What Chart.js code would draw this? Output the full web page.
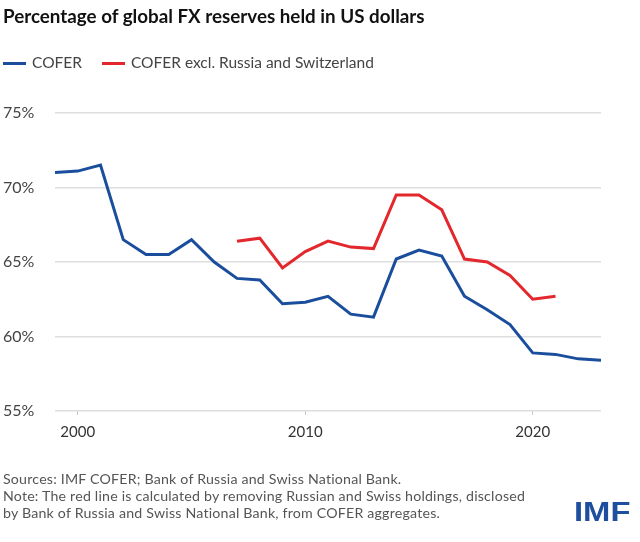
<!DOCTYPE html>
<html>
<head>
<meta charset="utf-8">
<script src="https://cdn.jsdelivr.net/npm/chart.js@4"></script>
<style>
  body { margin: 0; background: #fff; font-family: Lato, "Open Sans", sans-serif; }
  #wrap { position: relative; width: 640px; height: 542px; overflow: hidden; }
  #chart { position: absolute; left: 0; top: 0; }
  .title { position: absolute; left: 3px; top: 4px; font-size: 18.8px; font-weight: 700; color: #111; white-space: nowrap; }
  .legend { position: absolute; left: 3px; top: 53px; font-size: 15.5px; color: #444; white-space: nowrap; }
  .legend span.sw { display: inline-block; width: 23px; height: 3px; vertical-align: middle; margin-right: 6px; position: relative; top: -1px; }
  .legend span.item { margin-right: 16px; }
  .notes { position: absolute; left: 3px; top: 470px; font-size: 14.2px; line-height: 17px; color: #555; white-space: nowrap; letter-spacing: 0.2px; }
  .logo { position: absolute; left: 574px; top: 496px; font-family: "Liberation Sans", Arial, sans-serif; font-weight: 700; font-size: 28px; color: #1d4f9e; transform: scaleX(1.17); transform-origin: left top; }
</style>
</head>
<body>
<div id="wrap">
  <canvas id="chart" width="640" height="542"></canvas>
  <div class="title">Percentage of global FX reserves held in US dollars</div>
  <div class="legend">
    <span class="item"><span class="sw" style="background:#1a4e9c"></span>COFER</span>
    <span class="item"><span class="sw" style="background:#e2282d"></span>COFER excl. Russia and Switzerland</span>
  </div>
  <div class="notes">
    Sources: IMF COFER; Bank of Russia and Swiss National Bank.<br>
    Note: The red line is calculated by removing Russian and Swiss holdings, disclosed<br>
    by Bank of Russia and Swiss National Bank, from COFER aggregates.
  </div>
  <div class="logo">IMF</div>
</div>
<script>
const years = [1999, 2000, 2001, 2002, 2003, 2004, 2005, 2006, 2007, 2008, 2009, 2010, 2011,
               2012, 2013, 2014, 2015, 2016, 2017, 2018, 2019, 2020, 2021, 2022, 2023];
const cofer = [71.0, 71.1, 71.5, 66.5, 65.5, 65.5, 66.5, 65.0, 63.9, 63.8, 62.2, 62.3, 62.7,
               61.5, 61.3, 65.2, 65.8, 65.4, 62.7, 61.8, 60.8, 58.9, 58.8, 58.5, 58.4];
const coferExcl = [null, null, null, null, null, null, null, null, 66.4, 66.6, 64.6, 65.7, 66.4,
                   66.0, 65.9, 69.5, 69.5, 68.5, 65.2, 65.0, 64.1, 62.5, 62.7, null, null];
const xTicks = [2000, 2010, 2020];
const yTicks = [55, 60, 65, 70, 75];

function toPoints(values) {
    return years.map((yr, i) => ({ x: yr, y: values[i] }));
}

const ctx = document.getElementById('chart').getContext('2d');
new Chart(ctx, {
    type: 'line',
    data: {
        datasets: [
            {
                label: 'COFER excl. Russia and Switzerland',
                data: toPoints(coferExcl),
                borderColor: '#e2282d',
                borderWidth: 3,
                pointRadius: 0,
                spanGaps: false
            },
            {
                label: 'COFER',
                data: toPoints(cofer),
                borderColor: '#1a4e9c',
                borderWidth: 3,
                pointRadius: 0
            }
        ]
    },
    options: {
        responsive: false,
        animation: false,
        layout: { padding: { left: 3, top: 113, right: 39, bottom: 101 } },
        plugins: { legend: { display: false }, tooltip: { enabled: false } },
        scales: {
            x: {
                type: 'linear',
                min: 1999,
                max: 2023,
                afterBuildTicks: scale => { scale.ticks = xTicks.map(v => ({ value: v })); },
                afterFit: scale => { scale.height = 30; },
                grid: { drawOnChartArea: false, drawTicks: true, tickLength: 4, color: '#c8c8c8' },
                border: { display: false },
                ticks: {
                    padding: 8,
                    color: '#333',
                    font: { family: 'Lato', size: 15 },
                    maxRotation: 0,
                    callback: v => String(v)
                }
            },
            y: {
                min: 55,
                max: 75,
                afterBuildTicks: scale => { scale.ticks = yTicks.map(v => ({ value: v })); },
                afterFit: scale => { scale.width = 52; },
                grid: { color: '#dedede', drawTicks: false, lineWidth: 1.5 },
                border: { display: false },
                ticks: {
                    crossAlign: 'far',
                    padding: 0,
                    color: '#444',
                    font: { family: 'Lato', size: 16 },
                    callback: v => v + '%'
                }
            }
        }
    }
});
</script>
</body>
</html>
